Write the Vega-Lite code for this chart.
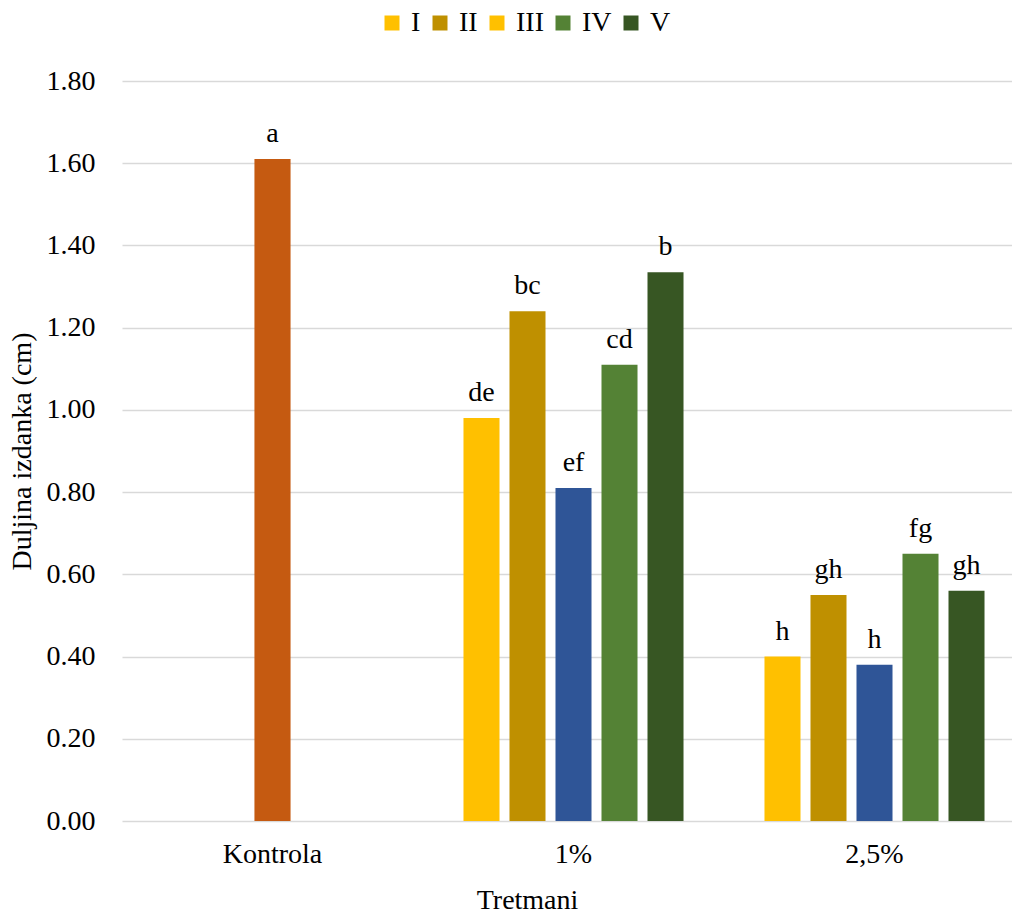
{
  "$schema": "https://vega.github.io/schema/vega-lite/v6.json",
  "width": 888,
  "height": 740,
  "autosize": {"type": "none"},
  "padding": {"left": 122, "top": 81, "right": 2, "bottom": 94},
  "background": "white",
  "config": {
    "view": {"stroke": null},
    "font": "Liberation Serif",
    "axis": {"labelFont": "Liberation Serif", "titleFont": "Liberation Serif", "labelColor": "#000000", "titleColor": "#000000", "titleFontWeight": "normal"},
    "legend": {"labelFont": "Liberation Serif", "labelColor": "#000000"},
    "text": {"font": "Liberation Serif"}
  },
  "data": {
    "values": [
      {"tretman": "Kontrola", "serija": "Kontrola", "vrijednost": 1.61, "oznaka": "a"},
      {"tretman": "1%", "serija": "I", "vrijednost": 0.98, "oznaka": "de"},
      {"tretman": "1%", "serija": "II", "vrijednost": 1.24, "oznaka": "bc"},
      {"tretman": "1%", "serija": "III", "vrijednost": 0.81, "oznaka": "ef"},
      {"tretman": "1%", "serija": "IV", "vrijednost": 1.11, "oznaka": "cd"},
      {"tretman": "1%", "serija": "V", "vrijednost": 1.335, "oznaka": "b"},
      {"tretman": "2,5%", "serija": "I", "vrijednost": 0.40, "oznaka": "h"},
      {"tretman": "2,5%", "serija": "II", "vrijednost": 0.55, "oznaka": "gh"},
      {"tretman": "2,5%", "serija": "III", "vrijednost": 0.38, "oznaka": "h"},
      {"tretman": "2,5%", "serija": "IV", "vrijednost": 0.65, "oznaka": "fg"},
      {"tretman": "2,5%", "serija": "V", "vrijednost": 0.56, "oznaka": "gh"}
    ]
  },
  "encoding": {
    "x": {
      "field": "tretman", "type": "nominal", "sort": ["Kontrola", "1%", "2,5%"],
      "scale": {"range": [0, 903], "paddingInner": 0, "paddingOuter": 0},
      "axis": {"title": "Tretmani", "labelAngle": 0, "labelFontSize": 28, "titleFontSize": 28, "ticks": false, "domain": false, "labelPadding": 19, "titleX": 405, "titleY": 87, "titleAlign": "center", "titleBaseline": "alphabetic"}
    },
    "y": {
      "field": "vrijednost", "type": "quantitative",
      "scale": {"domain": [0, 1.8]},
      "axis": {"title": "Duljina izdanka (cm)", "format": ".2f", "values": [0, 0.2, 0.4, 0.6, 0.8, 1.0, 1.2, 1.4, 1.6, 1.8], "labelFontSize": 28, "titleFontSize": 28, "ticks": false, "domain": false, "labelPadding": 27, "gridColor": "#D9D9D9", "gridWidth": 1.5, "titleX": -100, "titleY": 370, "titleAngle": 270, "titleAlign": "center", "titleBaseline": "middle"}
    }
  },
  "layer": [
    {
      "transform": [{"filter": "datum.tretman !== 'Kontrola'"}],
      "mark": {"type": "bar"},
      "encoding": {
        "xOffset": {"field": "serija", "type": "nominal", "scale": {"domain": ["I", "II", "III", "IV", "V"], "paddingInner": 0.217, "paddingOuter": 0.88}},
        "color": {
          "condition": {"test": "datum.serija === 'III'", "value": "#2F5597"},
          "field": "serija", "type": "nominal",
          "scale": {"domain": ["I", "II", "III", "IV", "V"], "range": ["#FFC000", "#BF9000", "#FFC000", "#548235", "#375623"]},
          "legend": {"title": null, "orient": "none", "legendX": 256, "legendY": -72, "direction": "horizontal", "symbolType": "square", "symbolSize": 225, "symbolStrokeWidth": 0, "labelFontSize": 28, "labelOffset": 5, "columnPadding": 5}
        }
      }
    },
    {
      "transform": [{"filter": "datum.tretman !== 'Kontrola'"}],
      "mark": {"type": "text", "baseline": "alphabetic", "dy": -17, "fontSize": 28, "color": "#000000"},
      "encoding": {
        "xOffset": {"field": "serija", "type": "nominal", "scale": {"domain": ["I", "II", "III", "IV", "V"], "paddingInner": 0.217, "paddingOuter": 0.88}},
        "text": {"field": "oznaka"}
      }
    },
    {
      "transform": [{"filter": "datum.tretman === 'Kontrola'"}],
      "mark": {"type": "bar", "color": "#C55A11", "width": {"band": 0.12}},
      "encoding": {}
    },
    {
      "transform": [{"filter": "datum.tretman === 'Kontrola'"}],
      "mark": {"type": "text", "baseline": "alphabetic", "dy": -17, "fontSize": 28, "color": "#000000"},
      "encoding": {"text": {"field": "oznaka"}}
    }
  ]
}
